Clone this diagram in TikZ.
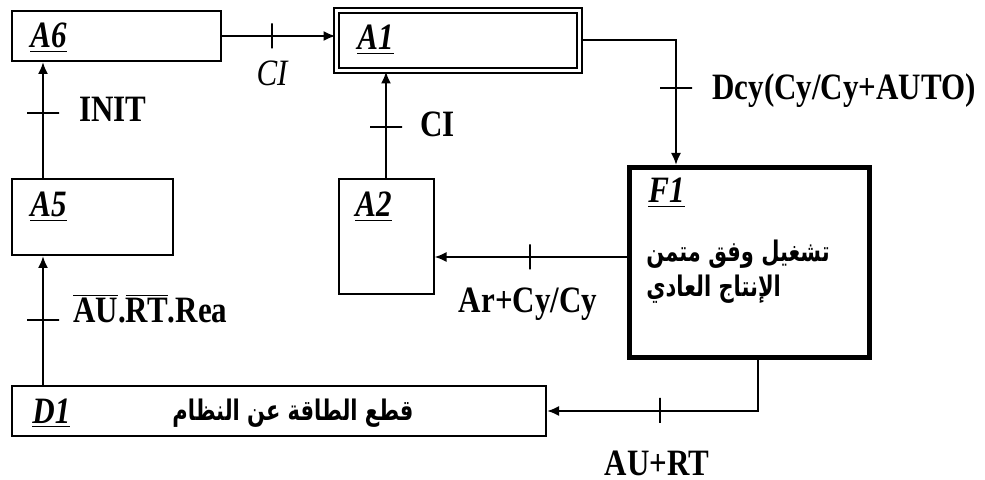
\documentclass[tikz,border=0pt]{standalone}
\usepackage{fontspec}
\setmainfont{Liberation Serif}
\newfontfamily\arabicfont[Script=Arabic]{DejaVu Sans}
\TeXXeTstate=1
\usetikzlibrary{arrows.meta}

\begin{document}
\begin{tikzpicture}[
    x=0.5pt, y=-0.5pt,
    box/.style={rectangle, draw, line width=1pt, inner sep=0pt},
    initbox/.style={box, double, line width=1pt, double distance=1.5pt},
    activebox/.style={box, line width=2.5pt},
    steplbl/.style={anchor=base west, inner sep=0pt, yscale=1.2, transform shape,
                    font=\fontsize{15.5}{18}\selectfont\bfseries\itshape},
    cond/.style={inner sep=0pt, yscale=1.2, transform shape,
                 font=\fontsize{15.5}{18}\selectfont\bfseries},
    arab/.style={inner sep=0pt, yscale=1.35, transform shape,
                 font=\fontsize{10.5}{13}\selectfont\arabicfont\bfseries},
    arr/.style={-{Latex[length=6pt,width=5pt]}, line width=1pt},
    vtick/.style={draw, line width=1pt, inner sep=0pt, minimum width=0pt, minimum height=12.5pt},
    htick/.style={draw, line width=1pt, inner sep=0pt, minimum height=0pt, minimum width=16pt}
]
\useasboundingbox (0,0) rectangle (985,480);

% steps
\node[box, minimum width=104.5pt, minimum height=25pt] (A6) at (116.5,36) {};
\node[initbox, minimum width=121.5pt, minimum height=30pt] (A1) at (458,40.5) {};
\node[box, minimum width=80.5pt, minimum height=38pt] (A5) at (92.5,217) {};
\node[box, minimum width=47.5pt, minimum height=57.5pt] (A2) at (386,236.5) {};
\node[activebox, minimum width=120pt, minimum height=95pt] (F1) at (749.5,262.5) {};
\node[box, minimum width=267pt, minimum height=25pt] (D1) at (279,411) {};

\node[steplbl] (lA6) at (30,48) {\underline{A6}};
\node[steplbl] (lA1) at (357,50) {\underline{A1}};
\node[steplbl] (lA5) at (30,217) {\underline{A5}};
\node[steplbl] (lA2) at (355,217) {\underline{A2}};
\node[steplbl] (lF1) at (648,203) {\underline{F1}};
\node[steplbl] (lD1) at (32,423) {\underline{D1}};

\node[arab, anchor=west, align=left] (tF1) at (646,272)
    {\beginR تشغيل وفق متمن\endR\\\beginR الإنتاج العادي\endR};
\node[arab] (tD1) at (293,413) {\beginR قطع الطاقة عن النظام\endR};

% links
\coordinate (c1) at (676,0);
\coordinate (c2) at (0,257);
\coordinate (c3) at (758,0);
\coordinate (c4) at (43,0);
\draw[arr] (A6.east) -- (A6.east -| A1.west);
\draw[arr] (A1.east) -| (c1 |- F1.north);
\draw[arr] (A2.north) -- (A2.north |- A1.south);
\draw[arr] (F1.west |- c2) -- (A2.east |- c2);
\draw[arr] (c3 |- F1.south) |- (D1.east);
\draw[arr] (c4 |- D1.north) -- (c4 |- A5.south);
\draw[arr] (c4 |- A5.north) -- (c4 |- A6.south);

% transitions
\node[vtick] (t1) at (272,36) {};
\node[htick] (t2) at (676,88) {};
\node[htick] (t3) at (386,127) {};
\node[vtick] (t4) at (530,257) {};
\node[vtick] (t5) at (660,410.5) {};
\node[htick] (t6) at (43,320) {};
\node[htick] (t7) at (43,113) {};

\node[cond, anchor=base, font=\fontsize{15.5}{18}\selectfont\itshape] (r1) at (272,86) {CI};
\node[cond, anchor=base west] (r2) at (712,100) {Dcy(Cy/Cy+AUTO)};
\node[cond, anchor=base west] (r3) at (420,137) {CI};
\node[cond, anchor=base] (r4) at (528,313) {Ar+Cy/Cy};
\node[cond, anchor=base] (r5) at (657,475) {AU+RT};
\node[cond, anchor=base west] (r6) at (73,323) {$\overline{\mbox{AU}}$.$\overline{\mbox{RT}}$.Rea};
\node[cond, anchor=base west] (r7) at (79,122) {INIT};
\end{tikzpicture}
\end{document}
